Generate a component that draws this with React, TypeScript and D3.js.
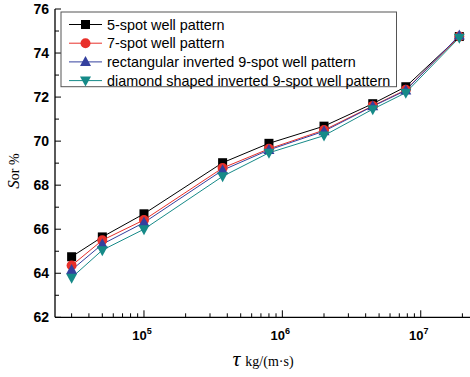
import React from 'react';
import * as d3 from 'd3';

const xValues = [3e4, 5e4, 1e5, 3.7e5, 8e5, 2e6, 4.5e6, 7.8e6, 1.9e7];
const fiveSpot = [64.75, 65.65, 66.7, 69.02, 69.9, 70.68, 71.7, 72.47, 74.75];
const sevenSpot = [64.35, 65.5, 66.42, 68.78, 69.65, 70.5, 71.6, 72.33, 74.75];
const rectNine = [64.15, 65.32, 66.3, 68.68, 69.6, 70.45, 71.58, 72.3, 74.8];
const diamondNine = [63.8, 65.05, 66.0, 68.4, 69.47, 70.25, 71.45, 72.2, 74.7];
const seriesNames = [
  '5-spot well pattern',
  '7-spot well pattern',
  'rectangular inverted 9-spot well pattern',
  'diamond shaped inverted 9-spot well pattern',
];
const yTicks = [62, 64, 66, 68, 70, 72, 74, 76];
const xMajor = [1e5, 1e6, 1e7];

const colors = ['#000000', '#e8302a', '#34409e', '#168a88'];
const shapes = ['square', 'circle', 'triangle', 'triangleDown'];

function Marker({ shape, x, y, color }: { shape: string; x: number; y: number; color: string }) {
  if (shape === 'square') return <rect x={x - 4.5} y={y - 4.5} width={9} height={9} fill={color} />;
  if (shape === 'circle') return <circle cx={x} cy={y} r={5} fill={color} />;
  if (shape === 'triangle')
    return <path d={`M${x},${y - 6}L${x + 5.5},${y + 4}L${x - 5.5},${y + 4}Z`} fill={color} />;
  return <path d={`M${x},${y + 6}L${x + 5.5},${y - 4}L${x - 5.5},${y - 4}Z`} fill={color} />;
}

export default function App() {
  const W = 470, H = 377;
  const left = 55, right = 470, top = 9, bottom = 317.3;
  const x = d3.scaleLog().domain([Math.pow(10, 4.357), Math.pow(10, 7.356)]).range([left, right]);
  const y = d3.scaleLinear().domain([62, 76]).range([bottom, top]);
  const allSeries = [fiveSpot, sevenSpot, rectNine, diamondNine];
  const line = d3.line<number>().x((_, i) => x(xValues[i])).y((d) => y(d));
  const minor: number[] = [];
  for (let e = 4; e <= 7; e++) for (let m = 2; m <= 9; m++) {
    const v = m * Math.pow(10, e);
    if (v >= x.domain()[0] && v <= x.domain()[1]) minor.push(v);
  }
  const yMinor = d3.range(63, 76, 2);
  const font = 'Liberation Sans, Arial, sans-serif';
  return (
    <svg width={W} height={H} style={{ position: 'absolute', left: 0, top: 0, background: '#fff' }}>
      {/* axes */}
      <line x1={left} x2={left} y1={top} y2={bottom} stroke="#000" strokeWidth={1.3} />
      <line x1={left} x2={right} y1={bottom} y2={bottom} stroke="#000" strokeWidth={1.3} />
      {yTicks.map((t) => (
        <g key={t}>
          <line x1={left} x2={left + 6} y1={y(t)} y2={y(t)} stroke="#000" strokeWidth={1} />
          <text x={49} y={y(t) + 5} textAnchor="end" fontFamily={font} fontWeight="bold" fontSize={14}>{t}</text>
        </g>
      ))}
      {yMinor.map((t) => (
        <line key={t} x1={left} x2={left + 4} y1={y(t)} y2={y(t)} stroke="#000" strokeWidth={1} />
      ))}
      {xMajor.map((t) => (
        <g key={t}>
          <line x1={x(t)} x2={x(t)} y1={bottom} y2={bottom - 7} stroke="#000" strokeWidth={1} />
          <text x={x(t) - 2} y={340} textAnchor="middle" fontFamily={font} fontWeight="bold" fontSize={13}>
            10<tspan dy={-6} fontSize={9}>{Math.round(Math.log10(t))}</tspan>
          </text>
        </g>
      ))}
      {minor.map((t) => (
        <line key={t} x1={x(t)} x2={x(t)} y1={bottom} y2={bottom - 4} stroke="#000" strokeWidth={1} />
      ))}
      {/* series */}
      {allSeries.map((s, si) => (
        <path key={si} d={line(s) || ''} fill="none" stroke={colors[si]} strokeWidth={1} />
      ))}
      {allSeries.map((s, si) => (
        <g key={si}>
          {s.map((v, i) => (
            <Marker key={i} shape={shapes[si]} x={x(xValues[i])} y={y(v)} color={colors[si]} />
          ))}
        </g>
      ))}
      {/* legend */}
      <rect x={61} y={12} width={335.5} height={74.7} fill="#fff" stroke="#555" strokeWidth={1} />
      {seriesNames.map((n, i) => {
        const ly = 24.5 + i * 18.7;
        return (
          <g key={n}>
            <line x1={69} x2={102} y1={ly} y2={ly} stroke={colors[i]} strokeWidth={1} />
            <Marker shape={shapes[i]} x={85.5} y={ly} color={colors[i]} />
            <text x={107} y={ly + 5} fontFamily={font} fontSize={14.4}>{n}</text>
          </g>
        );
      })}
      {/* axis titles */}
      <text x={263} y={366} textAnchor="middle" fontFamily="Liberation Serif, Times New Roman, serif">
        <tspan fontStyle="italic" fontSize={22}>τ</tspan>
        <tspan fontSize={14} dx={5}>kg/(m·s)</tspan>
      </text>
      <text transform="translate(19,171) rotate(-90)" textAnchor="middle" fontFamily="Liberation Serif, Times New Roman, serif">
        <tspan fontStyle="italic" fontSize={17}>S</tspan>
        <tspan fontSize={14}>or %</tspan>
      </text>
    </svg>
  );
}
